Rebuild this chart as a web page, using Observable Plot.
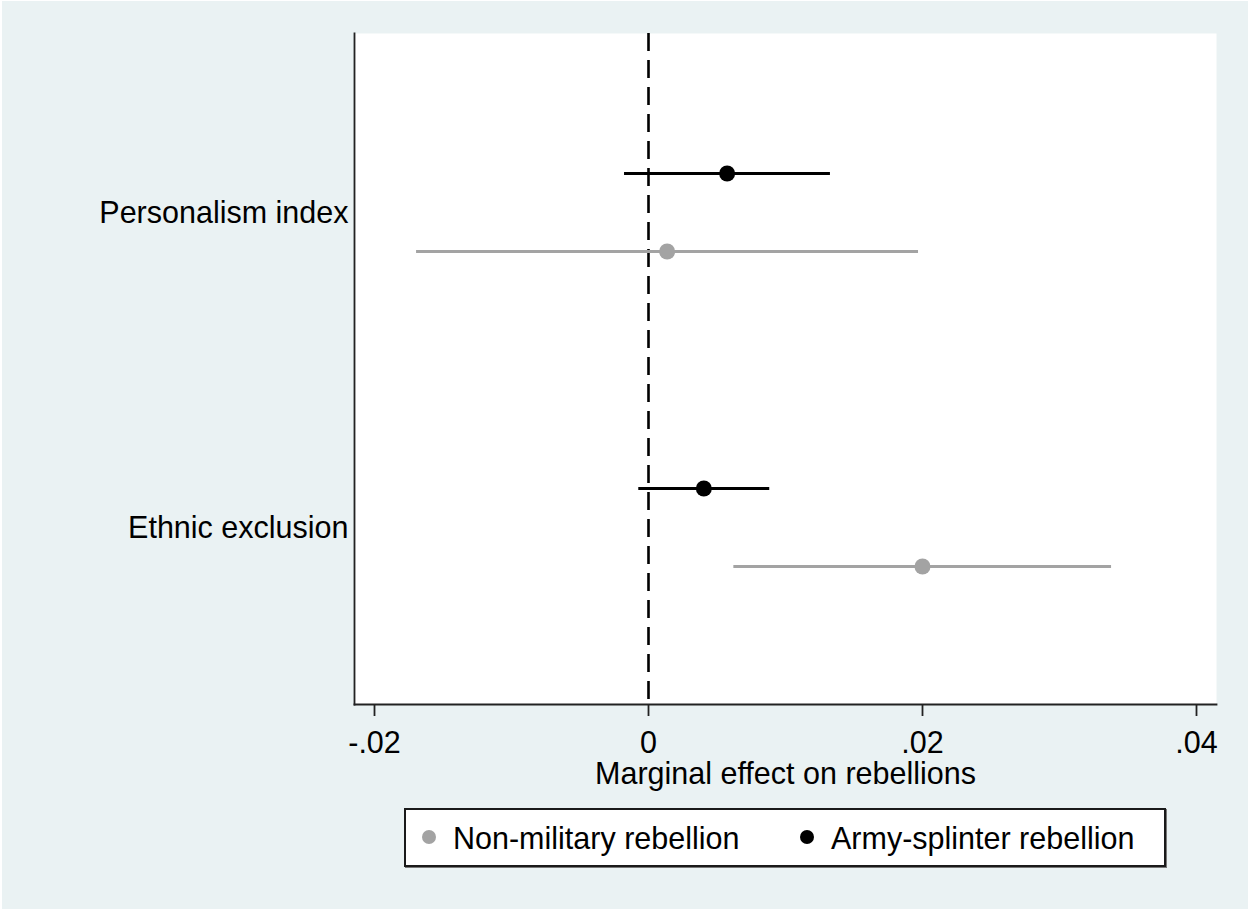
<!DOCTYPE html>
<html>
<head>
<meta charset="utf-8">
<script src="https://cdn.jsdelivr.net/npm/d3@7"></script>
<script src="https://cdn.jsdelivr.net/npm/@observablehq/plot@0.6"></script>
<style>
  html, body { margin: 0; padding: 0; background: #ffffff; }
  #wrap { position: relative; width: 1248px; height: 909px; overflow: hidden; font-family: "Liberation Sans", Arial, sans-serif; }
  #bg { position: absolute; left: 2px; top: 1px; right: 0; bottom: 0; background: #eaf2f3; }
  #chart { position: absolute; left: 0; top: 0; }
  #legend { position: absolute; left: 404px; top: 808px; width: 758px; height: 55px; background: #fff;
            border: 2px solid #1a1a1a; box-shadow: 1px 1px 0 #777; }
  .sw { position: absolute; width: 14px; height: 14px; border-radius: 50%; top: 20px; }
  .lt { position: absolute; top: 11px; font-size: 30.5px; line-height: 34px; color: #000; white-space: nowrap; }
</style>
</head>
<body>
<div id="wrap">
  <div id="bg"></div>
  <div id="chart"></div>
  <div id="legend"></div>
</div>
<script>
// ---- data ----
const categories = ["Personalism index", "Ethnic exclusion"];
const seriesNames = ["Non-military rebellion", "Army-splinter rebellion"];
const seriesColors = ["#a3a3a3", "#000000"];
const nonMilEst = [0.00136, 0.0200];
const nonMilLo  = [-0.01693, 0.00623];
const nonMilHi  = [0.01971, 0.0338];
const armyEst = [0.00574, 0.00404];
const armyLo  = [-0.00175, -0.00071];
const armyHi  = [0.01328, 0.00885];
const xTicks = [-0.02, 0, 0.02, 0.04];
const xTickLabels = ["-.02", "0", ".02", ".04"];
const xTitle = "Marginal effect on rebellions";
const xDomain = [-0.02146, 0.04146];

const nonMil = categories.map((c, i) => ({category: c, est: nonMilEst[i], lo: nonMilLo[i], hi: nonMilHi[i]}));
const army = categories.map((c, i) => ({category: c, est: armyEst[i], lo: armyLo[i], hi: armyHi[i]}));

const font = "'Liberation Sans', Arial, sans-serif";

const plot = Plot.plot({
  width: 1248,
  height: 800,
  marginLeft: 354,
  marginRight: 32,
  marginTop: 33,
  marginBottom: 96,
  style: {background: "transparent", fontFamily: font, fontSize: "30.5px", color: "#000", overflow: "visible"},
  x: {domain: xDomain, label: null},
  y: {type: "point", domain: categories, range: [213, 528], padding: 0, label: null},
  marks: [
    Plot.frame({fill: "white", stroke: "none"}),
    Plot.ruleX([0], {stroke: "#000", strokeWidth: 2.6, strokeDasharray: "18,9"}),
    Plot.frame({anchor: "left", stroke: "#222", strokeWidth: 1.8}),
    Plot.frame({anchor: "bottom", stroke: "#222", strokeWidth: 1.8}),
    Plot.axisX({ticks: xTicks, tickFormat: d => xTickLabels[xTicks.indexOf(d)], tickSize: 12, tickPadding: 15, strokeWidth: 1.8, stroke: "#222", fontSize: 30.5, label: null}),
    Plot.axisY({tickSize: 0, tickPadding: 6, fontSize: 30.5, label: null}),
    Plot.ruleY(army, {y: "category", x1: "lo", x2: "hi", dy: -40, stroke: seriesColors[1], strokeWidth: 3}),
    Plot.ruleY(nonMil, {y: "category", x1: "lo", x2: "hi", dy: 38, stroke: seriesColors[0], strokeWidth: 3}),
    Plot.dot(army, {x: "est", y: "category", dy: -40, r: 8, fill: seriesColors[1], stroke: "none"}),
    Plot.dot(nonMil, {x: "est", y: "category", dy: 38, r: 8, fill: seriesColors[0], stroke: "none"}),
    Plot.text([xTitle], {frameAnchor: "bottom", dy: 70, lineAnchor: "middle", fontSize: 30.5, fill: "#000"})
  ]
});
document.getElementById("chart").appendChild(plot);

// legend (HTML, below the SVG)
const legend = document.getElementById("legend");
const swX = [16, 394];
const txX = [47, 425];
seriesNames.forEach((name, i) => {
  const sw = document.createElement("div");
  sw.className = "sw";
  sw.style.left = swX[i] + "px";
  sw.style.background = seriesColors[i];
  legend.appendChild(sw);
  const t = document.createElement("div");
  t.className = "lt";
  t.style.left = txX[i] + "px";
  t.textContent = name;
  legend.appendChild(t);
});
</script>
</body>
</html>
